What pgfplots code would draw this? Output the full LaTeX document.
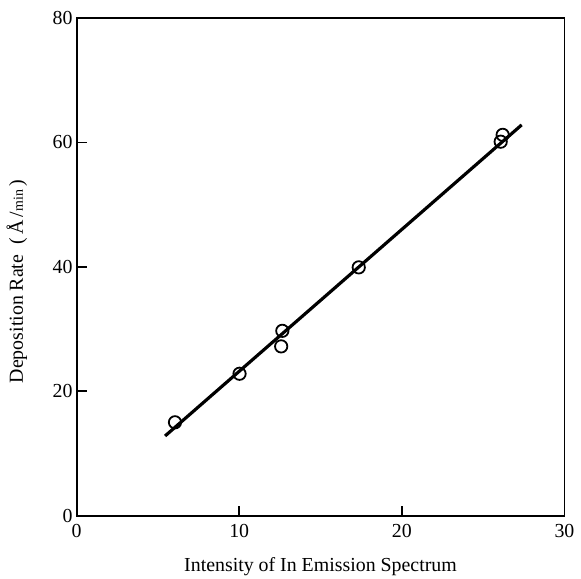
\documentclass[border=0pt]{standalone}
\usepackage{fontspec}
\setmainfont{Liberation Serif}
\usepackage{pgfplots}
\pgfplotsset{compat=1.18}

\begin{document}
\begin{tikzpicture}
\begin{axis}[
    scale only axis,
    width=245.5pt,
    height=250.5pt,
    xmin=0, xmax=30,
    ymin=0, ymax=80,
    xtick={0,10,20,30},
    ytick={0,20,40,60,80},
    tick align=inside,
    tick pos=left,
    major tick length=5pt,
    axis line style={line width=0.9pt},
    tick style={line width=0.8pt, black},
    /pgf/number format/assume math mode=true,
    ticklabel style={font=\normalsize},
    xticklabel style={yshift=-1pt},
    yticklabel style={xshift=1.5pt},
    xlabel={Intensity of In Emission Spectrum},
    ylabel={Deposition Rate\enspace(\,Å\,/{\scriptsize min}\,)},
    label style={font=\normalsize},
    xlabel style={yshift=-3pt, text depth=0pt},
    ylabel style={yshift=6pt, xshift=-7.5pt},
]
\addplot[black, line width=1.6pt] coordinates {(5.44,12.8) (27.37,62.8)};
\addplot[only marks, mark=o, mark size=3.1pt, mark options={line width=0.9pt, fill=white}, black]
coordinates {
(6.05,15.0) (10.02,22.8) (12.65,29.7) (12.58,27.2)
(17.35,39.9) (26.08,60.1) (26.2,61.2)};
\end{axis}
\path (current axis.north) ++(0,9pt);
\end{tikzpicture}
\end{document}
